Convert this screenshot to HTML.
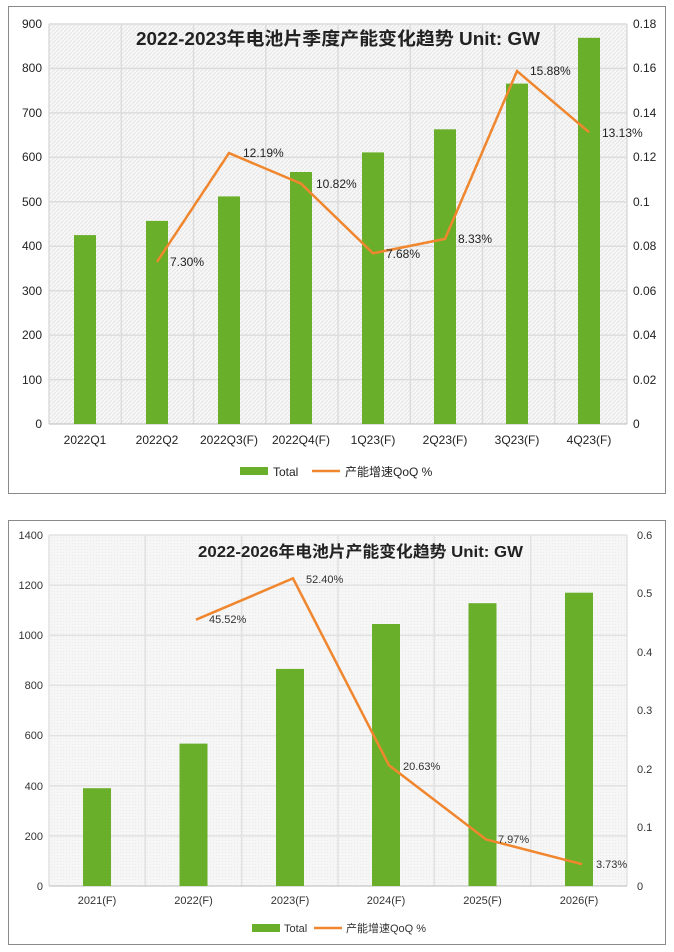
<!DOCTYPE html>
<html><head><meta charset="utf-8"><style>
body{margin:0;background:#fff;}
svg{display:block;font-family:"Liberation Sans","Noto Sans CJK SC",sans-serif;}
</style></head><body>
<svg width="674" height="952" viewBox="0 0 674 952">
<defs>
<pattern id="h" width="4" height="4" patternUnits="userSpaceOnUse"><rect width="4" height="4" fill="#f7f7f7"/><path d="M0 4L4 0" stroke="#e6e6e6" stroke-width="1"/></pattern>
<pattern id="h2" width="3" height="3" patternUnits="userSpaceOnUse"><rect width="3" height="3" fill="#f6f6f6"/><rect width="1" height="1" fill="#ebebeb"/></pattern>
</defs>
<!-- TOP CHART -->
<rect x="8.5" y="6.5" width="657" height="487" fill="#fff" stroke="#8a8a8a"/>
<rect x="49" y="24" width="578" height="400" fill="url(#h)"/>
<g stroke="#dcdcdc" stroke-width="1.5">
<line x1="49" y1="24" x2="627" y2="24"/><line x1="49" y1="68.4" x2="627" y2="68.4"/><line x1="49" y1="112.9" x2="627" y2="112.9"/><line x1="49" y1="157.3" x2="627" y2="157.3"/><line x1="49" y1="201.8" x2="627" y2="201.8"/><line x1="49" y1="246.2" x2="627" y2="246.2"/><line x1="49" y1="290.7" x2="627" y2="290.7"/><line x1="49" y1="335.1" x2="627" y2="335.1"/><line x1="49" y1="379.6" x2="627" y2="379.6"/>
<line x1="49" y1="24" x2="49" y2="424"/><line x1="121.3" y1="24" x2="121.3" y2="424"/><line x1="193.5" y1="24" x2="193.5" y2="424"/><line x1="265.8" y1="24" x2="265.8" y2="424"/><line x1="338" y1="24" x2="338" y2="424"/><line x1="410.3" y1="24" x2="410.3" y2="424"/><line x1="482.5" y1="24" x2="482.5" y2="424"/><line x1="554.8" y1="24" x2="554.8" y2="424"/><line x1="627" y1="24" x2="627" y2="424"/>
</g>
<line x1="49" y1="424" x2="627" y2="424" stroke="#bbb"/>
<g fill="#6aaf2a">
<rect x="74" y="235.1" width="22" height="188.9"/>
<rect x="146" y="220.9" width="22" height="203.1"/>
<rect x="218" y="196.4" width="22" height="227.6"/>
<rect x="290" y="172" width="22" height="252"/>
<rect x="362" y="152.4" width="22" height="271.6"/>
<rect x="434" y="129.3" width="22" height="294.7"/>
<rect x="506" y="83.6" width="22" height="340.4"/>
<rect x="578" y="37.8" width="22" height="386.2"/>
</g>
<polyline fill="none" stroke="#f0862e" stroke-width="2.5" points="157,261.8 229,153.1 301,183.6 373,253.3 445,238.9 517,71.1 589,132.2"/>
<text x="136" y="45" font-size="18" font-weight="bold" fill="#222" textLength="404" lengthAdjust="spacingAndGlyphs">2022-2023年电池片季度产能变化趋势 Unit: GW</text>
<g font-size="12" fill="#222">
<text x="170" y="266">7.30%</text><text x="243" y="157">12.19%</text><text x="316" y="188">10.82%</text>
<text x="386" y="258">7.68%</text><text x="458" y="243">8.33%</text><text x="530" y="75">15.88%</text><text x="602" y="137">13.13%</text>
</g>
<g font-size="12" fill="#222" text-anchor="end">
<text x="42" y="28">900</text><text x="42" y="72">800</text><text x="42" y="117">700</text><text x="42" y="161">600</text><text x="42" y="206">500</text><text x="42" y="250">400</text><text x="42" y="295">300</text><text x="42" y="339">200</text><text x="42" y="384">100</text><text x="42" y="428">0</text>
</g>
<g font-size="12" fill="#222">
<text x="633" y="28">0.18</text><text x="633" y="72">0.16</text><text x="633" y="117">0.14</text><text x="633" y="161">0.12</text><text x="633" y="206">0.1</text><text x="633" y="250">0.08</text><text x="633" y="295">0.06</text><text x="633" y="339">0.04</text><text x="633" y="384">0.02</text><text x="633" y="428">0</text>
</g>
<g font-size="12" fill="#222" text-anchor="middle">
<text x="85" y="444">2022Q1</text><text x="157" y="444">2022Q2</text><text x="229" y="444">2022Q3(F)</text><text x="301" y="444">2022Q4(F)</text><text x="373" y="444">1Q23(F)</text><text x="445" y="444">2Q23(F)</text><text x="517" y="444">3Q23(F)</text><text x="589" y="444">4Q23(F)</text>
</g>
<rect x="240" y="467" width="28" height="8" fill="#6aaf2a"/>
<text x="273" y="476" font-size="12" fill="#222">Total</text>
<line x1="312" y1="471" x2="340" y2="471" stroke="#f0862e" stroke-width="2.5"/>
<text x="345" y="476" font-size="12" fill="#222">产能增速QoQ %</text>

<!-- BOTTOM CHART -->
<rect x="8.5" y="520.5" width="657" height="424" fill="#fff" stroke="#8a8a8a"/>
<rect x="49" y="535" width="578" height="351" fill="url(#h2)"/>
<g stroke="#e2e2e2" stroke-width="1.5">
<line x1="49" y1="535" x2="627" y2="535"/><line x1="49" y1="585.1" x2="627" y2="585.1"/><line x1="49" y1="635.3" x2="627" y2="635.3"/><line x1="49" y1="685.4" x2="627" y2="685.4"/><line x1="49" y1="735.6" x2="627" y2="735.6"/><line x1="49" y1="785.7" x2="627" y2="785.7"/><line x1="49" y1="835.9" x2="627" y2="835.9"/>
<line x1="49" y1="535" x2="49" y2="886"/><line x1="145.3" y1="535" x2="145.3" y2="886"/><line x1="241.7" y1="535" x2="241.7" y2="886"/><line x1="338" y1="535" x2="338" y2="886"/><line x1="434.3" y1="535" x2="434.3" y2="886"/><line x1="530.7" y1="535" x2="530.7" y2="886"/><line x1="627" y1="535" x2="627" y2="886"/>
</g>
<line x1="49" y1="886" x2="627" y2="886" stroke="#bbb"/>
<g fill="#6aaf2a">
<rect x="83" y="788.2" width="28" height="97.8"/>
<rect x="179.5" y="743.6" width="28" height="142.4"/>
<rect x="276" y="668.9" width="28" height="217.1"/>
<rect x="372" y="624" width="28" height="262"/>
<rect x="468.5" y="603.2" width="28" height="282.8"/>
<rect x="565" y="592.7" width="28" height="293.3"/>
</g>
<polyline fill="none" stroke="#f0862e" stroke-width="2.5" points="196,619.7 293,578.4 389,765.3 486,839.4 582,864.2"/>
<text x="198" y="557" font-size="16" font-weight="bold" fill="#222" textLength="325" lengthAdjust="spacingAndGlyphs">2022-2026年电池片产能变化趋势 Unit: GW</text>
<g font-size="11" fill="#333">
<text x="209" y="623">45.52%</text><text x="306" y="583">52.40%</text><text x="403" y="770">20.63%</text><text x="498" y="843">7.97%</text><text x="596" y="868">3.73%</text>
</g>
<g font-size="11" fill="#333" text-anchor="end">
<text x="43" y="539">1400</text><text x="43" y="589">1200</text><text x="43" y="639">1000</text><text x="43" y="689">800</text><text x="43" y="739">600</text><text x="43" y="790">400</text><text x="43" y="840">200</text><text x="43" y="890">0</text>
</g>
<g font-size="11" fill="#333">
<text x="637" y="539">0.6</text><text x="637" y="597">0.5</text><text x="637" y="656">0.4</text><text x="637" y="714">0.3</text><text x="637" y="773">0.2</text><text x="637" y="831">0.1</text><text x="637" y="890">0</text>
</g>
<g font-size="11" fill="#333" text-anchor="middle">
<text x="97" y="904">2021(F)</text><text x="193.5" y="904">2022(F)</text><text x="290" y="904">2023(F)</text><text x="386" y="904">2024(F)</text><text x="482.5" y="904">2025(F)</text><text x="579" y="904">2026(F)</text>
</g>
<rect x="252" y="924" width="28" height="8" fill="#6aaf2a"/>
<text x="284" y="932" font-size="11" fill="#333">Total</text>
<line x1="314" y1="928" x2="342" y2="928" stroke="#f0862e" stroke-width="2.5"/>
<text x="346" y="932" font-size="11" fill="#333">产能增速QoQ %</text>
</svg>
</body></html>
